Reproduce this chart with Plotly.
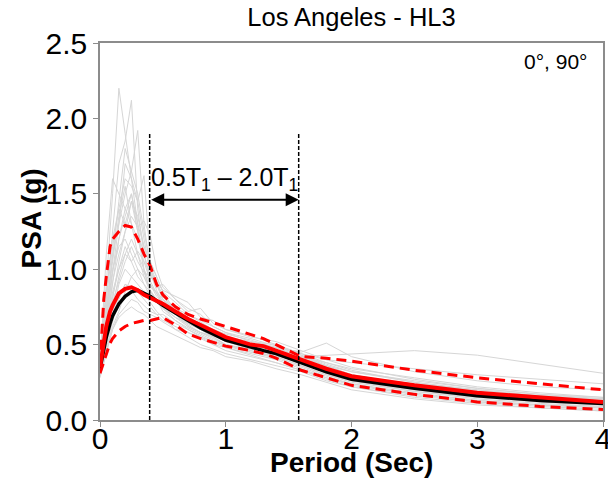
import plotly.graph_objects as go

# ---------------- data ----------------
periods_gray = [0, 0.05, 0.1, 0.15, 0.2, 0.25, 0.3, 0.35, 0.4, 0.45, 0.5, 0.6, 0.7,
                0.8, 0.9, 1.0, 1.2, 1.4, 1.6, 1.8, 2.0, 2.5, 3.0, 3.5, 4.0]

gray_records = [
    [0.38, 0.90, 1.50, 2.20, 1.90, 1.60, 1.30, 1.00, 0.85, 0.80, 0.75, 0.70, 0.62, 0.58, 0.55, 0.50, 0.46, 0.42, 0.36, 0.30, 0.26, 0.20, 0.15, 0.12, 0.10],
    [0.35, 0.80, 1.30, 1.70, 1.85, 2.12, 1.40, 1.10, 0.90, 0.82, 0.78, 0.72, 0.66, 0.60, 0.56, 0.52, 0.47, 0.44, 0.38, 0.31, 0.27, 0.20, 0.16, 0.13, 0.11],
    [0.33, 0.70, 1.10, 1.30, 1.50, 1.65, 1.92, 1.30, 1.00, 0.90, 0.80, 0.70, 0.64, 0.60, 0.57, 0.53, 0.50, 0.45, 0.40, 0.35, 0.30, 0.22, 0.17, 0.14, 0.12],
    [0.40, 0.85, 1.20, 1.40, 1.60, 1.55, 1.45, 1.62, 1.05, 0.95, 0.85, 0.72, 0.68, 0.62, 0.58, 0.55, 0.50, 0.46, 0.42, 0.36, 0.30, 0.23, 0.18, 0.15, 0.13],
    [0.36, 1.10, 1.60, 1.50, 1.40, 1.30, 1.10, 0.95, 0.85, 0.80, 0.72, 0.66, 0.60, 0.55, 0.50, 0.48, 0.44, 0.40, 0.34, 0.28, 0.24, 0.18, 0.13, 0.10, 0.09],
    [0.30, 0.60, 0.90, 1.20, 1.35, 1.50, 1.25, 1.10, 0.95, 0.90, 0.82, 0.74, 0.70, 0.65, 0.60, 0.55, 0.50, 0.48, 0.44, 0.40, 0.38, 0.34, 0.30, 0.27, 0.24],
    [0.32, 0.50, 0.70, 0.90, 1.00, 0.95, 0.90, 0.85, 0.78, 0.72, 0.68, 0.60, 0.58, 0.55, 0.52, 0.50, 0.46, 0.42, 0.42, 0.43, 0.44, 0.46, 0.43, 0.37, 0.31],
    [0.34, 0.60, 0.85, 1.00, 1.10, 1.05, 0.95, 0.90, 0.85, 0.80, 0.75, 0.68, 0.62, 0.58, 0.56, 0.52, 0.50, 0.48, 0.45, 0.51, 0.42, 0.32, 0.26, 0.22, 0.20],
    [0.28, 0.45, 0.60, 0.70, 0.75, 0.80, 0.78, 0.72, 0.70, 0.68, 0.65, 0.60, 0.55, 0.50, 0.47, 0.44, 0.40, 0.36, 0.32, 0.26, 0.22, 0.16, 0.12, 0.09, 0.07],
    [0.30, 0.50, 0.65, 0.80, 0.90, 0.88, 0.85, 0.80, 0.75, 0.70, 0.66, 0.62, 0.58, 0.54, 0.50, 0.46, 0.42, 0.38, 0.33, 0.27, 0.22, 0.15, 0.11, 0.08, 0.06],
    [0.35, 0.70, 1.00, 1.15, 1.20, 1.10, 1.00, 0.90, 0.82, 0.78, 0.74, 0.68, 0.64, 0.60, 0.55, 0.50, 0.47, 0.43, 0.38, 0.32, 0.28, 0.21, 0.16, 0.13, 0.11],
    [0.33, 0.65, 0.95, 1.30, 1.70, 1.60, 1.45, 1.20, 0.98, 0.86, 0.78, 0.70, 0.65, 0.60, 0.56, 0.52, 0.50, 0.46, 0.40, 0.33, 0.28, 0.22, 0.17, 0.14, 0.12],
    [0.30, 0.55, 0.80, 1.05, 1.25, 1.45, 1.35, 1.15, 1.00, 0.90, 0.80, 0.72, 0.67, 0.62, 0.58, 0.55, 0.52, 0.48, 0.41, 0.36, 0.32, 0.26, 0.21, 0.17, 0.15],
    [0.37, 0.75, 1.05, 1.35, 1.55, 1.30, 1.20, 1.05, 0.92, 0.84, 0.76, 0.70, 0.63, 0.58, 0.54, 0.50, 0.45, 0.41, 0.35, 0.29, 0.24, 0.17, 0.13, 0.10, 0.08],
    [0.31, 0.48, 0.62, 0.72, 0.85, 0.95, 1.00, 0.95, 0.88, 0.85, 0.80, 0.74, 0.68, 0.64, 0.60, 0.57, 0.53, 0.48, 0.42, 0.38, 0.34, 0.28, 0.22, 0.18, 0.15],
    [0.36, 0.80, 1.15, 1.40, 1.30, 1.45, 1.25, 0.98, 0.86, 0.80, 0.74, 0.66, 0.61, 0.57, 0.53, 0.49, 0.45, 0.42, 0.36, 0.30, 0.25, 0.19, 0.14, 0.11, 0.09],
    [0.29, 0.52, 0.75, 0.95, 1.10, 1.20, 1.10, 1.00, 0.90, 0.84, 0.78, 0.70, 0.66, 0.61, 0.57, 0.53, 0.49, 0.45, 0.39, 0.33, 0.29, 0.24, 0.20, 0.16, 0.14],
    [0.34, 0.72, 1.10, 1.45, 1.80, 1.65, 1.50, 1.25, 1.02, 0.92, 0.82, 0.72, 0.66, 0.60, 0.56, 0.52, 0.48, 0.44, 0.38, 0.31, 0.26, 0.19, 0.15, 0.12, 0.10],
    [0.32, 0.62, 0.92, 1.10, 1.25, 1.35, 1.28, 1.32, 1.22, 1.00, 0.88, 0.80, 0.74, 0.70, 0.62, 0.58, 0.52, 0.50, 0.43, 0.36, 0.30, 0.23, 0.18, 0.14, 0.12],
    [0.30, 0.55, 0.78, 0.92, 1.05, 1.15, 1.05, 0.98, 0.95, 0.92, 0.86, 0.82, 0.78, 0.68, 0.66, 0.60, 0.55, 0.52, 0.46, 0.40, 0.35, 0.27, 0.21, 0.17, 0.14],
    [0.33, 0.58, 0.82, 1.00, 1.15, 1.05, 1.12, 1.05, 0.98, 0.88, 0.90, 0.80, 0.72, 0.74, 0.64, 0.60, 0.56, 0.50, 0.44, 0.38, 0.33, 0.25, 0.19, 0.15, 0.13],
    [0.31, 0.50, 0.70, 0.82, 0.90, 0.86, 0.80, 0.76, 0.72, 0.70, 0.70, 0.64, 0.60, 0.56, 0.52, 0.48, 0.43, 0.38, 0.33, 0.28, 0.23, 0.17, 0.12, 0.10, 0.08],
    [0.35, 0.68, 0.98, 1.20, 1.40, 1.50, 1.30, 1.15, 1.05, 0.95, 0.85, 0.78, 0.70, 0.66, 0.62, 0.58, 0.54, 0.49, 0.43, 0.37, 0.32, 0.25, 0.20, 0.16, 0.14],
    [0.29, 0.46, 0.60, 0.68, 0.72, 0.75, 0.72, 0.70, 0.66, 0.62, 0.60, 0.56, 0.52, 0.48, 0.46, 0.42, 0.39, 0.34, 0.30, 0.25, 0.20, 0.14, 0.10, 0.08, 0.06],
]

periods_stat = [0, 0.03, 0.05, 0.08, 0.1, 0.15, 0.2, 0.25, 0.3, 0.35, 0.4, 0.45, 0.5,
                0.6, 0.7, 0.8, 1.0, 1.2, 1.3, 1.4, 1.6, 1.8, 2.0, 2.5, 3.0, 3.5, 4.0]
mean_psa = [0.34, 0.47, 0.55, 0.64, 0.69, 0.77, 0.82, 0.85, 0.86, 0.84, 0.82, 0.79, 0.76,
            0.71, 0.66, 0.61, 0.53, 0.48, 0.46, 0.44, 0.38, 0.32, 0.27, 0.21, 0.16, 0.13, 0.11]
target_psa = [0.35, 0.52, 0.62, 0.72, 0.76, 0.84, 0.87, 0.88, 0.86, 0.83, 0.81, 0.79, 0.77,
              0.72, 0.67, 0.63, 0.55, 0.50, 0.49, 0.46, 0.40, 0.34, 0.29, 0.23, 0.18, 0.15, 0.12]
upper_psa = [0.36, 0.80, 0.95, 1.15, 1.20, 1.25, 1.29, 1.28, 1.20, 1.10, 1.02, 0.90, 0.83,
             0.75, 0.70, 0.67, 0.62, 0.57, 0.54, 0.50, 0.42, 0.41, 0.39, 0.33, 0.28, 0.24, 0.20]
lower_psa = [0.31, 0.38, 0.44, 0.51, 0.54, 0.59, 0.62, 0.64, 0.65, 0.66, 0.66, 0.67, 0.68,
             0.63, 0.57, 0.54, 0.49, 0.46, 0.44, 0.41, 0.33, 0.28, 0.23, 0.17, 0.12, 0.09, 0.07]

x_ticks = [0, 1, 2, 3, 4]
y_ticks = [0.0, 0.5, 1.0, 1.5, 2.0, 2.5]
t1 = 0.79
range_lo = 0.5 * t1
range_hi = 2.0 * t1
marker_top = 1.91
arrow_y = 1.46
label_y = 1.60

FONT = "Liberation Sans, Arial, Helvetica, sans-serif"

fig = go.Figure()
for rec in gray_records:
    fig.add_trace(go.Scatter(x=periods_gray, y=rec, mode="lines",
                             line=dict(color="#d6d6d6", width=1), hoverinfo="skip",
                             showlegend=False))

fig.add_trace(go.Scatter(x=periods_stat, y=mean_psa, mode="lines",
                         line=dict(color="black", width=3.5), showlegend=False))
fig.add_trace(go.Scatter(x=periods_stat, y=target_psa, mode="lines",
                         line=dict(color="#ff0000", width=4), showlegend=False))
fig.add_trace(go.Scatter(x=periods_stat, y=upper_psa, mode="lines",
                         line=dict(color="#ff0000", width=3, dash="10px,6px"), showlegend=False))
fig.add_trace(go.Scatter(x=periods_stat, y=lower_psa, mode="lines",
                         line=dict(color="#ff0000", width=3, dash="10px,6px"), showlegend=False))

for xv in (range_lo, range_hi):
    fig.add_shape(type="line", x0=xv, x1=xv, y0=0, y1=marker_top, xref="x", yref="y",
                  line=dict(color="black", width=1.5, dash="4px,2px"))

fig.add_annotation(x=range_hi, y=arrow_y, ax=range_lo, ay=arrow_y, xref="x", yref="y",
                   axref="x", ayref="y", text="", showarrow=True, arrowhead=2,
                   arrowside="end+start", arrowsize=1.3, arrowwidth=2, arrowcolor="black")
fig.add_annotation(x=(range_lo + range_hi) / 2, y=label_y, xref="x", yref="y",
                   text="0.5T<sub>1</sub> – 2.0T<sub>1</sub>", showarrow=False,
                   font=dict(family=FONT, size=25, color="black"))
fig.add_annotation(x=0.975, y=0.95, xref="paper", yref="paper", xanchor="right",
                   yanchor="middle", text="0°, 90°", showarrow=False,
                   font=dict(family=FONT, size=21, color="black"))

# axis titles
fig.add_annotation(x=0.5, y=-0.114, xref="paper", yref="paper", xanchor="center",
                   yanchor="middle", text="<b>Period (Sec)</b>", showarrow=False,
                   font=dict(family=FONT, size=28, color="black"))
fig.add_annotation(x=-0.137, y=0.535, xref="paper", yref="paper", xanchor="center",
                   yanchor="middle", text="<b>PSA (g)</b>", textangle=-90, showarrow=False,
                   font=dict(family=FONT, size=28, color="black"))

axis_common = dict(showline=True, linecolor="#8c8c8c", linewidth=1.5, mirror=True,
                   ticks="outside", ticklen=5, tickcolor="#8c8c8c", showgrid=False,
                   zeroline=False, ticklabeloverflow="allow", automargin=False,
                   tickfont=dict(family=FONT, size=30, color="black"))

fig.update_xaxes(range=[0, 4], tickvals=x_ticks, ticktext=[str(v) for v in x_ticks],
                 ticklabelstandoff=-14, **axis_common)
fig.update_yaxes(range=[0, 2.5], tickvals=y_ticks, ticktext=[f"{v:.1f}" for v in y_ticks],
                 **axis_common)

fig.update_layout(
    width=608, height=482,
    margin=dict(l=100, r=5, t=43, b=62, autoexpand=False),
    paper_bgcolor="white", plot_bgcolor="white",
    title=dict(text="Los Angeles - HL3", x=0.5, xref="paper", xanchor="center",
               y=1 - 17 / 482, yref="container", yanchor="middle",
               font=dict(family=FONT, size=25.5, color="black")),
    showlegend=False,
)

fig.write_html("out.html")
